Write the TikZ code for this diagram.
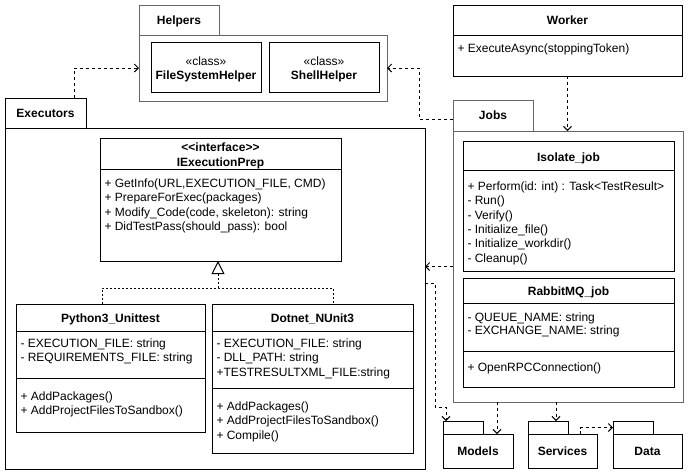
\documentclass[tikz,border=0pt]{standalone}
\usepackage{fontspec}
\setmainfont{Liberation Sans}
\usetikzlibrary{arrows.meta}
\definecolor{pkgline}{RGB}{102,102,102}

% one member line per entry, starting at a given first line and going down
\newcommand\memberlines[5]{%
  \foreach \t [count=\i] in {#5}
    \node[mem] (#1\i) at (#2,{#3+(\i-1)*#4}) {\t};}

\begin{document}
\begin{tikzpicture}[x=1pt,y=-1pt,line width=1pt,
  font=\fontsize{12}{14.5}\selectfont,
  box/.style={draw, anchor=north west, inner sep=0pt, outer sep=0pt},
  pkg/.style={box, draw=pkgline},
  ttl/.style={inner sep=0pt, text height=8.6pt, text depth=0pt,
    font=\fontsize{12}{14.5}\selectfont\bfseries},
  stereo/.style={inner sep=0pt, text height=8.6pt, text depth=0pt},
  mem/.style={anchor=west, inner sep=0pt, text height=8.6pt, text depth=0pt},
  dep/.style={dash pattern=on 3pt off 3pt,
    -{Straight Barb[length=4pt,width=8pt,line width=1pt]}},
  real/.style={dash pattern=on 2pt off 2pt},
]
\useasboundingbox (0,0) rectangle (689,475);

% ---------------- Helpers package ----------------
\node[pkg, minimum width=80pt, minimum height=30pt] (helptab) at (139,5) {};
\node[pkg, minimum width=248pt, minimum height=66pt] (helpbody) at (139,35) {};
\node[ttl] (helplbl) at (helptab) {Helpers};
\node[box, minimum width=110pt, minimum height=50pt] (fsh) at (151,42) {};
\node[stereo] (fshst) at (206,61) {«class»};
\node[ttl] (fshname) at (206,75) {FileSystemHelper};
\node[box, minimum width=110pt, minimum height=50pt] (shh) at (269,42) {};
\node[stereo] (shhst) at (324,61) {«class»};
\node[ttl] (shhname) at (324,75) {ShellHelper};

% ---------------- Worker ----------------
\node[box, minimum width=229pt, minimum height=71pt] (worker) at (453,5) {};
\draw (worker.west |- 0,35) -- (worker.east |- 0,35);
\node[ttl] (workername) at (567.5,20) {Worker};
\memberlines{wk}{457}{48}{14.5}{{+ ExecuteAsync(stoppingToken)}}

% ---------------- Executors package ----------------
\node[box, minimum width=81pt, minimum height=30pt] (exetab) at (5,98) {};
\node[box, minimum width=420pt, minimum height=341pt] (exebody) at (5,128) {};
\node[ttl] (exelbl) at (exetab) {Executors};

% interface
\node[box, minimum width=241pt, minimum height=123pt] (iep) at (100,138) {};
\draw (iep.west |- 0,169) -- (iep.east |- 0,169);
\node[ttl] (iepst) at (220.5,147) {<{}<interface>{}>};
\node[ttl] (iepname) at (220.5,162) {IExecutionPrep};
\memberlines{iepm}{104}{183}{14.4}{{+ GetInfo(URL,EXECUTION\_FILE, CMD)},
  {+ PrepareForExec(packages)},{+ Modify\_Code(code, skeleton): string},
  {+ DidTestPass(should\_pass): bool}}

% Python3_Unittest
\node[box, minimum width=189pt, minimum height=128pt] (py) at (16,304) {};
\draw (py.west |- 0,331) -- (py.east |- 0,331);
\draw (py.west |- 0,378) -- (py.east |- 0,378);
\node[ttl] (pyname) at (110.5,318) {Python3\_Unittest};
\memberlines{pya}{20}{343}{14.5}{{- EXECUTION\_FILE: string},{- REQUIREMENTS\_FILE: string}}
\memberlines{pym}{20}{396}{14.5}{{+ AddPackages()},{+ AddProjectFilesToSandbox()}}

% Dotnet_NUnit3
\node[box, minimum width=201pt, minimum height=149pt] (dn) at (212,304) {};
\draw (dn.west |- 0,331) -- (dn.east |- 0,331);
\draw (dn.west |- 0,388) -- (dn.east |- 0,388);
\node[ttl] (dnname) at (312.5,318) {Dotnet\_NUnit3};
\memberlines{dna}{216}{343}{14.5}{{- EXECUTION\_FILE: string},{- DLL\_PATH: string},
  {+TESTRESULTXML\_FILE:string}}
\memberlines{dnm}{216}{406}{14.5}{{+ AddPackages()},{+ AddProjectFilesToSandbox()},
  {+ Compile()}}

% realization
\coordinate (pyjoin) at ([xshift=86pt]py.north west);
\coordinate (dnjoin) at ([xshift=121pt]dn.north west);
\coordinate (bus) at (218,288);
\draw[real] (pyjoin) |- (bus) -| (dnjoin);
\draw[real, -{Triangle[open, length=13pt, width=13pt, line width=1pt]}]
  (bus) -- (bus |- iep.south);

% ---------------- Jobs package ----------------
\node[pkg, minimum width=80pt, minimum height=31pt] (jobtab) at (453,100) {};
\node[pkg, minimum width=230pt, minimum height=271pt] (jobbody) at (453,131) {};
\node[ttl] (joblbl) at (jobtab) {Jobs};

% Isolate_job
\node[box, minimum width=211pt, minimum height=130pt] (iso) at (463,141) {};
\draw (iso.west |- 0,170) -- (iso.east |- 0,170);
\node[ttl] (isoname) at (568.5,157) {Isolate\_job};
\memberlines{isom}{467}{186}{14.4}{{+ Perform(id: int) : Task<TestResult>},{- Run()},
  {- Verify()},{- Initialize\_file()},{- Initialize\_workdir()},{- Cleanup()}}

% RabbitMQ_job
\node[box, minimum width=211pt, minimum height=109pt] (rmq) at (463,278) {};
\draw (rmq.west |- 0,303) -- (rmq.east |- 0,303);
\draw (rmq.west |- 0,351) -- (rmq.east |- 0,351);
\node[ttl] (rmqname) at (568.5,291) {RabbitMQ\_job};
\memberlines{rmqa}{467}{317}{13.5}{{- QUEUE\_NAME: string},{- EXCHANGE\_NAME: string}}
\memberlines{rmqm}{467}{367}{14.5}{{+ OpenRPCConnection()}}

% ---------------- small packages ----------------
\node[box, minimum width=40pt, minimum height=13pt] (modtab) at (443,421) {};
\node[box, minimum width=70pt, minimum height=34pt] (modbody) at (443,434) {};
\node[ttl] (modlbl) at (modbody) {Models};
\node[box, minimum width=40pt, minimum height=13pt] (svctab) at (528,421) {};
\node[box, minimum width=69pt, minimum height=34pt] (svcbody) at (528,434) {};
\node[ttl] (svclbl) at (svcbody) {Services};
\node[box, minimum width=40pt, minimum height=13pt] (datatab) at (613,421) {};
\node[box, minimum width=69pt, minimum height=34pt] (databody) at (613,434) {};
\node[ttl] (datalbl) at (databody) {Data};

% ---------------- dependencies ----------------
\draw[dep] ([xshift=69pt]exetab.north west) |- (helpbody.west);
\draw[dep] ([yshift=-3.5pt]jobtab.west) -- ++(-34,0) |- (helpbody.east);
\draw[dep] (worker.south) -- (worker.south |- jobbody.north);
\draw[dep] (jobbody.west) -- (jobbody.west -| exebody.east);
\draw[dep] ([yshift=15.5pt]exebody.east) -- ++(10,0) -- ++(0,124)
  -| ([xshift=3pt]modtab.north west);
\coordinate (tomodels) at ([xshift=44pt]jobbody.south west);
\draw[dep] (tomodels) -- (tomodels |- modbody.north);
\coordinate (toservices) at ([xshift=103pt]jobbody.south west);
\draw[dep] (toservices) -- (toservices |- svctab.north);
\draw[dep] ([xshift=52pt]svcbody.north west) |- (datatab.west);
\end{tikzpicture}
\end{document}
